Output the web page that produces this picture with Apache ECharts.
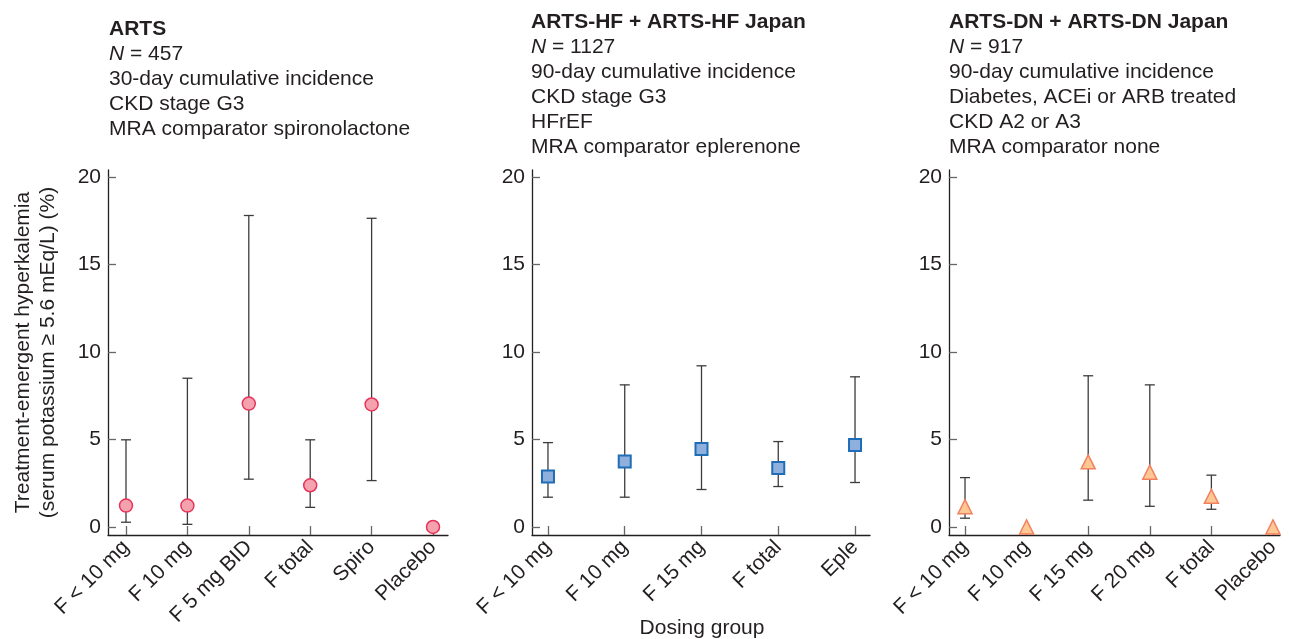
<!DOCTYPE html>
<html>
<head>
<meta charset="utf-8">
<script src="https://cdn.jsdelivr.net/npm/echarts@6/dist/echarts.min.js"></script>
<style>
  html, body { margin: 0; padding: 0; background: #fff; }
  #chart { width: 1289px; height: 639px; }
</style>
</head>
<body>
<div id="chart"></div>
<script>
// ARTS
const artsCats = ["F < 10 mg", "F 10 mg", "F 5 mg BID", "F total", "Spiro", "Placebo"]
const artsRate = [1.22, 1.22, 7.05, 2.38, 7.0, 0]
const artsLow = [0.27, 0.15, 2.73, 1.12, 2.65, null]
const artsHigh = [4.98, 8.5, 17.8, 4.98, 17.64, null]

// ARTS-HF + ARTS-HF Japan
const hfCats = ["F < 10 mg", "F 10 mg", "F 15 mg", "F total", "Eple"]
const hfRate = [2.88, 3.74, 4.46, 3.37, 4.69]
const hfLow = [1.7, 1.7, 2.14, 2.31, 2.54]
const hfHigh = [4.82, 8.12, 9.21, 4.88, 8.58]

// ARTS-DN + ARTS-DN Japan
const dnCats = ["F < 10 mg", "F 10 mg", "F 15 mg", "F 20 mg", "F total", "Placebo"]
const dnRate = [1.16, 0, 3.72, 3.13, 1.75, 0]
const dnLow = [0.5, null, 1.53, 1.18, 1.01, null]
const dnHigh = [2.82, null, 8.64, 8.12, 2.96, null]

const yTicks = [0, 5, 10, 15, 20]
const yName = "Treatment-emergent hyperkalemia\n(serum potassium \u2265 5.6 mEq/L) (%)"

const FONT = "Liberation Sans, Arial, Helvetica, sans-serif"
const INK = "#231f20"

const panels = [
    { cats: artsCats, rate: artsRate, low: artsLow, high: artsHigh, grid: { left: 108, width: 340 }, xr: [-0.293, 5.244],
      symbol: "circle", size: 13, fill: "#f4a3ae", edge: "#e6335a", bw: 1.5,
      title: ["ARTS", "457", "30-day cumulative incidence", "CKD stage G3", "MRA comparator spironolactone"], tl: 109, tt: 17 },
    { cats: hfCats, rate: hfRate, low: hfLow, high: hfHigh, grid: { left: 532, width: 338 }, xr: [-0.208, 4.195],
      symbol: "rect", size: 12, fill: "#8fb0dc", edge: "#1f6db6", bw: 2,
      title: ["ARTS-HF + ARTS-HF Japan", "1127", "90-day cumulative incidence", "CKD stage G3", "HFrEF", "MRA comparator eplerenone"], tl: 531, tt: 10 },
    { cats: dnCats, rate: dnRate, low: dnLow, high: dnHigh, grid: { left: 949, width: 331 }, xr: [-0.26, 5.114],
      symbol: "triangle", size: 14, fill: "#fdc894", edge: "#f2805e", bw: 1.5,
      title: ["ARTS-DN + ARTS-DN Japan", "917", "90-day cumulative incidence", "Diabetes, ACEi or ARB treated", "CKD A2 or A3", "MRA comparator none"], tl: 949, tt: 10 }
]

const rich = {
    b: { fontFamily: FONT, fontSize: 21, fontWeight: "bold", lineHeight: 25, color: INK },
    i: { fontFamily: FONT, fontSize: 21, fontWeight: "normal", fontStyle: "italic", lineHeight: 25, color: INK },
    r: { fontFamily: FONT, fontSize: 21, fontWeight: "normal", lineHeight: 25, color: INK }
}

function errorBars(params, api) {
    const x = api.value(0)
    const top = api.coord([x, api.value(2)])
    const bot = api.coord([x, api.value(1)])
    const w = 5
    const style = { stroke: "#3c3c3c", lineWidth: 1.3 }
    return {
        type: "group",
        children: [
            { type: "line", shape: { x1: top[0], y1: top[1], x2: bot[0], y2: bot[1] }, style },
            { type: "line", shape: { x1: top[0] - w, y1: top[1], x2: top[0] + w, y2: top[1] }, style },
            { type: "line", shape: { x1: bot[0] - w, y1: bot[1], x2: bot[0] + w, y2: bot[1] }, style }
        ]
    }
}

const opt = { animation: false, backgroundColor: "#fff", title: [], grid: [], xAxis: [], yAxis: [], series: [] }

panels.forEach((p, k) => {
    const t = p.title
    opt.title.push({
        left: p.tl, top: p.tt, padding: 0,
        text: "{b|" + t[0] + "}\n{i|N}{r| = " + t[1] + "}\n" + t.slice(2).map(s => "{r|" + s + "}").join("\n"),
        textStyle: { fontWeight: "normal", fontFamily: FONT, fontSize: 21, rich }
    })
    opt.grid.push({ left: p.grid.left, width: p.grid.width, top: 170, height: 365 })
    const idx = p.cats.map((c, i) => i)
    opt.xAxis.push({
        type: "value", gridIndex: k, min: p.xr[0], max: p.xr[1],
        splitLine: { show: false },
        axisLine: { show: true, onZero: false, lineStyle: { color: INK, width: 1.3 } },
        axisTick: { show: true, inside: true, length: 9, customValues: idx, lineStyle: { color: "#666", width: 1.3 } },
        axisLabel: { customValues: idx, formatter: v => p.cats[Math.round(v)], rotate: 45, margin: 9,
            fontSize: 21, fontFamily: FONT, color: INK }
    })
    opt.yAxis.push({
        type: "value", gridIndex: k, min: -0.46, max: 20.4,
        name: k === 0 ? yName : "", nameLocation: "middle", nameRotate: 90, nameGap: 47,
        nameTextStyle: { fontSize: 21, fontFamily: FONT, color: INK, lineHeight: 25 },
        splitLine: { show: false },
        axisLine: { show: true, onZero: false, lineStyle: { color: INK, width: 1.3 } },
        axisTick: { show: true, inside: true, length: 8, customValues: yTicks, lineStyle: { color: "#666", width: 1.3 } },
        axisLabel: { customValues: yTicks, margin: 7, fontSize: 21, fontFamily: FONT, color: INK }
    })
    opt.series.push({
        type: "custom", xAxisIndex: k, yAxisIndex: k, renderItem: errorBars, z: 2,
        data: idx.filter(i => p.low[i] != null).map(i => [i, p.low[i], p.high[i]])
    })
    opt.series.push({
        type: "scatter", xAxisIndex: k, yAxisIndex: k, z: 3,
        symbol: p.symbol, symbolSize: p.size,
        itemStyle: { color: p.fill, borderColor: p.edge, borderWidth: p.bw, opacity: 1 },
        data: p.rate.map((v, i) => [i, v])
    })
})

opt.graphic = [{
    type: "text", x: 702, y: 628,
    style: { text: "Dosing group", fontSize: 21, fontFamily: FONT, fill: INK, align: "center", verticalAlign: "middle" }
}]

const chart = echarts.init(document.getElementById("chart"), null, { renderer: "canvas" })
chart.setOption(opt)
</script>
</body>
</html>
